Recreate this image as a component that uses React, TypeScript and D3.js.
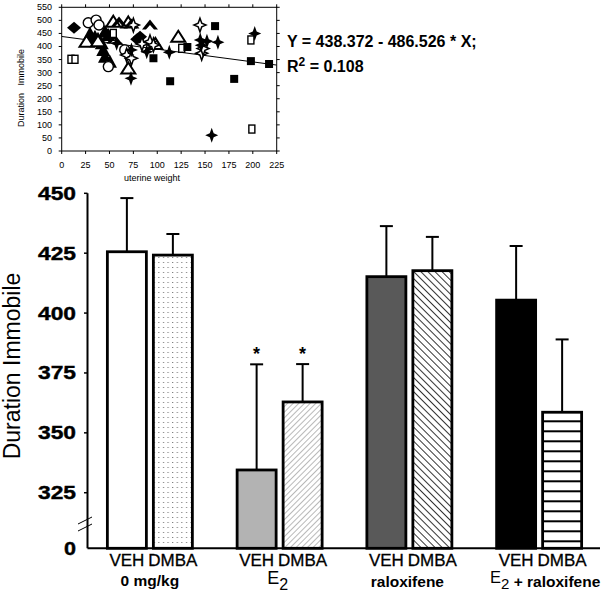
import React from 'react';
import * as d3 from 'd3';

// ---------- main bar chart data ----------
const groups = ['0 mg/kg', 'E2', 'raloxifene', 'E2 + raloxifene'];
const treatments = ['VEH', 'DMBA'];
const meanVEH = [425.6, 334.5, 415.2, 405.4];
const meanDMBA = [424.2, 362.9, 417.7, 358.6];
const upperVEH = [448, 378.6, 436.3, 428];
const upperDMBA = [433, 378.7, 431.8, 389];
const sigVEH = [false, true, false, false];
const sigDMBA = [false, true, false, false];
const yTicks = [325, 350, 375, 400, 425, 450];

// ---------- inset scatter data (uterine weight, duration immobile) ----------
const filledSquares = [[96, 355], [113.5, 267], [131.5, 398], [160.5, 478], [180.5, 276], [198, 344], [217, 333]];
const openSquares = [[9.7, 351], [13.9, 351], [54, 450], [125.6, 393], [198, 425], [199, 84]];
const filledStars = [[72.5, 278], [57.5, 412], [89, 380], [112.6, 378], [157, 60], [145, 425], [152, 420], [163.5, 416], [202, 450], [73, 387], [146, 405]];
const openStars = [[75, 482], [68, 367], [92.4, 418], [96, 406], [144.7, 482], [146.5, 374], [73, 355], [148, 392], [84, 410]];
const openCircles = [[27.8, 491], [36, 501], [39, 482], [48.8, 323], [66, 387]];
const openTriangles = [[26, 418], [69.7, 316], [122, 437], [54, 495], [69.7, 492], [98, 410], [38, 420]];
const filledChevrons = [[92.4, 484], [60, 496], [55, 430], [73, 488]];
const filledTriangles = [[29.6, 450], [34.8, 437], [45.3, 457], [48.8, 444], [41.9, 412], [43.5, 387], [45.3, 361], [50.5, 342], [38, 430], [31, 425]];
const filledDiamonds = [[12.9, 472], [82, 437], [79, 428], [47, 448]];
const xTicksScatter = [0, 25, 50, 75, 100, 125, 150, 175, 200, 225];
const yTicksScatter = [0, 50, 100, 150, 200, 250, 300, 350, 400, 450, 500, 550];
const regIntercept = 438.372;
const regSlope = -486.526; // per gram (x axis in mg)

const FONT = 'Liberation Sans, Arial, Helvetica, sans-serif';

function starPath(s: number) {
  const a = s, b = s * 0.3;
  return `M0,${-a * 1.15}L${b},${-b}L${a},0L${b},${b}L0,${a * 1.15}L${-b},${b}L${-a},0L${-b},${-b}Z`;
}

export default function App() {
  // ----- inset scales -----
  const sx = d3.scaleLinear().domain([0, 225]).range([61.7, 276.7]);
  const sy = d3.scaleLinear().domain([0, 550]).range([151, 7.3]);

  // ----- main scales -----
  const y = d3.scaleLinear().domain([301.8, 450]).range([548.3, 193.3]);
  const xg = d3.scaleBand().domain(groups).range([85, 604]);
  const xi = d3.scaleBand().domain(treatments).range([-42.5, 42.5]).paddingInner(0.152);
  const base = y(301.8);

  const fills = [
    ['#fff', 'url(#dots)'],
    ['#b3b3b3', 'url(#hatchLight)'],
    ['#595959', 'url(#hatchDark)'],
    ['#000', 'url(#stripes)'],
  ];

  const bars: any[] = [];
  groups.forEach((g, gi) => {
    treatments.forEach((t, ti) => {
      const cx = xg(g)! + xg.bandwidth() / 2;
      const x0 = cx + xi(t)!;
      bars.push({
        key: g + t,
        x: x0,
        w: xi.bandwidth(),
        mean: ti === 0 ? meanVEH[gi] : meanDMBA[gi],
        upper: ti === 0 ? upperVEH[gi] : upperDMBA[gi],
        sig: ti === 0 ? sigVEH[gi] : sigDMBA[gi],
        fill: fills[gi][ti],
        label: t,
      });
    });
  });

  const line = d3.line<number>().x((d) => sx(d)).y((d) => sy(regIntercept + regSlope * d / 1000));

  return (
    <svg width={610} height={597} style={{ position: 'absolute', left: 0, top: 0, background: '#fff' }} fontFamily={FONT}>
      <defs>
        <pattern id="dots" width={4.6} height={5} patternUnits="userSpaceOnUse">
          <rect width={4.6} height={5} fill="#fff" />
          <rect x={2} y={2} width={1} height={1} fill="#666" />
        </pattern>
        <pattern id="hatchLight" width={4} height={4} patternUnits="userSpaceOnUse" patternTransform="rotate(45)">
          <rect width={4} height={4} fill="#fff" />
          <line x1={0} y1={0} x2={0} y2={4} stroke="#8a8a8a" strokeWidth={1.2} />
        </pattern>
        <pattern id="hatchDark" width={5} height={5} patternUnits="userSpaceOnUse" patternTransform="rotate(-45)">
          <rect width={5} height={5} fill="#fff" />
          <line x1={0} y1={0} x2={0} y2={5} stroke="#000" strokeWidth={1.6} />
        </pattern>
        <pattern id="stripes" width={10} height={10} patternUnits="userSpaceOnUse" y={412.3}>
          <rect width={10} height={10} fill="#fff" />
          <line x1={0} y1={9} x2={10} y2={9} stroke="#000" strokeWidth={2} />
        </pattern>
        <clipPath id="plotClip">
          <rect x={61.7} y={7.3} width={215} height={143.7} />
        </clipPath>
      </defs>

      {/* ================= INSET SCATTER ================= */}
      <g>
        <rect x={sx(0)} y={sy(550)} width={sx(225) - sx(0)} height={sy(0) - sy(550)} fill="none" stroke="#000" strokeWidth={1} />
        {xTicksScatter.map((t) => (
          <g key={'xt' + t}>
            <line x1={sx(t)} x2={sx(t)} y1={sy(0)} y2={sy(0) + 3} stroke="#000" />
            <line x1={sx(t)} x2={sx(t)} y1={sy(550)} y2={sy(550) - 3} stroke="#000" />
            <text x={sx(t)} y={168} fontSize={9} textAnchor="middle">{t}</text>
          </g>
        ))}
        {yTicksScatter.map((t) => (
          <g key={'yt' + t}>
            <line x1={sx(0) - 3} x2={sx(0)} y1={sy(t)} y2={sy(t)} stroke="#000" />
            <line x1={sx(225)} x2={sx(225) + 3} y1={sy(t)} y2={sy(t)} stroke="#000" />
            <text x={52} y={sy(t) + 3} fontSize={9} textAnchor="end">{t}</text>
          </g>
        ))}
        <text x={152} y={181} fontSize={9} textAnchor="middle">uterine weight</text>
        <text transform={`translate(24,${88}) rotate(-90)`} fontSize={9} textAnchor="middle" xmlSpace="preserve">Duration   Immobile</text>

        <g clipPath="url(#plotClip)">
          <path d={line([0, 225]) || ''} fill="none" stroke="#000" strokeWidth={1} />
        </g>

        {/* markers */}
        {filledTriangles.map((p, i) => (
          <path key={'ft' + i} transform={`translate(${sx(p[0])},${sy(p[1])})`} d="M0,-7L7,6L-7,6Z" fill="#000" />
        ))}
        {filledDiamonds.map((p, i) => (
          <path key={'fd' + i} transform={`translate(${sx(p[0])},${sy(p[1])})`} d="M0,-6L7,0L0,6L-7,0Z" fill="#000" />
        ))}
        {openCircles.map((p, i) => (
          <circle key={'oc' + i} cx={sx(p[0])} cy={sy(p[1])} r={5} fill="#fff" stroke="#000" strokeWidth={1.4} />
        ))}
        {openTriangles.map((p, i) => (
          <path key={'ot' + i} transform={`translate(${sx(p[0])},${sy(p[1])})`} d="M0,-6L7,5L-7,5Z" fill="#fff" stroke="#000" strokeWidth={2} />
        ))}
        {filledChevrons.map((p, i) => (
          <path key={'fc' + i} transform={`translate(${sx(p[0])},${sy(p[1])})`} d="M-8,5L0,-5L8,5L4,5L0,0.5L-4,5Z" fill="#000" />
        ))}
        {openStars.map((p, i) => (
          <path key={'os' + i} transform={`translate(${sx(p[0])},${sy(p[1])})`} d={starPath(6)} fill="#fff" stroke="#000" strokeWidth={1.5} />
        ))}
        {filledStars.map((p, i) => (
          <path key={'fs' + i} transform={`translate(${sx(p[0])},${sy(p[1])})`} d={starPath(6.5)} fill="#000" />
        ))}
        {openSquares.map((p, i) => (
          <rect key={'osq' + i} x={sx(p[0]) - 3} y={sy(p[1]) - 4} width={6} height={8} fill="#fff" stroke="#000" strokeWidth={1.4} />
        ))}
        {filledSquares.map((p, i) => (
          <rect key={'fsq' + i} x={sx(p[0]) - 4} y={sy(p[1]) - 4} width={8} height={8} fill="#000" />
        ))}

        <text x={287} y={47} fontSize={16} fontWeight="bold">Y = 438.372 - 486.526 * X;</text>
        <text x={287} y={72} fontSize={16} fontWeight="bold">
          R<tspan fontSize={12} dy={-6}>2</tspan><tspan dy={6}> = 0.108</tspan>
        </text>
      </g>

      {/* ================= MAIN BAR CHART ================= */}
      <g>
        {bars.map((b) => (
          <g key={b.key}>
            <line x1={b.x + b.w / 2} x2={b.x + b.w / 2} y1={y(b.mean)} y2={y(b.upper)} stroke="#000" strokeWidth={2} />
            <line x1={b.x + b.w / 2 - 6.5} x2={b.x + b.w / 2 + 6.5} y1={y(b.upper)} y2={y(b.upper)} stroke="#000" strokeWidth={2} />
            <rect x={b.x} y={y(b.mean)} width={b.w} height={base - y(b.mean)} fill={b.fill} stroke="#000" strokeWidth={2.8} />
            {b.sig && (
              <text x={b.x + b.w / 2} y={y(b.upper) - 4} fontSize={18} fontWeight="bold" textAnchor="middle">*</text>
            )}
            <text x={b.x + b.w / 2} y={566} fontSize={17} textAnchor="middle" stroke="#000" strokeWidth={0.3}>{b.label}</text>
          </g>
        ))}

        {/* axes */}
        <line x1={87.5} x2={87.5} y1={y(450)} y2={base} stroke="#000" strokeWidth={2} />
        <line x1={87.5} x2={600} y1={base} y2={base} stroke="#000" strokeWidth={2} />
        {yTicks.map((t) => (
          <g key={'my' + t}>
            <line x1={84} x2={87.5} y1={y(t)} y2={y(t)} stroke="#000" strokeWidth={1.5} />
            <text x={76} y={y(t) + 6.5} fontSize={18} fontWeight="bold" textAnchor="end" textLength={38} lengthAdjust="spacingAndGlyphs" stroke="#000" strokeWidth={0.4}>{t}</text>
          </g>
        ))}
        <text x={76} y={base + 6.5} fontSize={18} fontWeight="bold" textAnchor="end" textLength={12} lengthAdjust="spacingAndGlyphs" stroke="#000" strokeWidth={0.4}>0</text>
        {/* axis break marks */}
        <line x1={78} y1={524} x2={92} y2={517} stroke="#000" strokeWidth={1} />
        <line x1={78} y1={531} x2={92} y2={524} stroke="#000" strokeWidth={1} />

        <text transform={`translate(20,366) rotate(-90)`} fontSize={23} textAnchor="middle">Duration Immobile</text>

        {/* group labels */}
        <text x={xg(groups[0])! + xg.bandwidth() / 2} y={586} fontSize={15.5} fontWeight="bold" textAnchor="middle">0 mg/kg</text>
        <text x={xg(groups[1])! + xg.bandwidth() / 2 - 2} y={584} fontSize={18} textAnchor="middle">
          E<tspan fontSize={16} dy={6}>2</tspan>
        </text>
        <text x={xg(groups[2])! + xg.bandwidth() / 2 - 2} y={587} fontSize={15.5} fontWeight="bold" textAnchor="middle">raloxifene</text>
        <text x={xg(groups[3])! + xg.bandwidth() / 2 + 6} y={583} fontSize={16.5} textAnchor="middle">
          E<tspan fontSize={15} dy={6}>2</tspan><tspan dy={-2} fontWeight="bold" fontSize={15.5}> + raloxifene</tspan>
        </text>
      </g>
    </svg>
  );
}
